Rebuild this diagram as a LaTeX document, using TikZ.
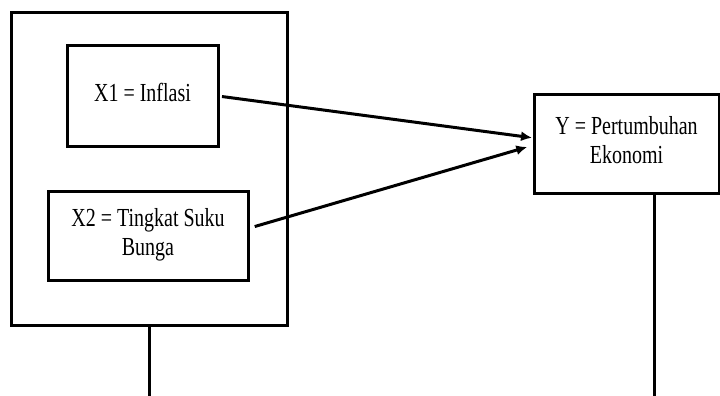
\documentclass[tikz,border=0pt]{standalone}
\usepackage{fontspec}
\setmainfont{Liberation Serif}
\usetikzlibrary{positioning, arrows.meta}
\newcommand{\boxtext}[1]{\scalebox{1}[1.3]{\begin{tabular}{@{}c@{}}#1\end{tabular}}}

\begin{document}
\begin{tikzpicture}[
    x=1pt, y=-1pt,
    node distance=45pt,
    varbox/.style={rectangle, draw, line width=3pt, outer sep=0pt, inner sep=0pt, font=\fontsize{20}{22}\selectfont},
    groupbox/.style={rectangle, draw, line width=3pt, outer sep=0pt, minimum width=276pt, minimum height=312pt},
    arrow/.style={-{Latex[length=11pt,width=10pt]}, line width=3pt},
    link/.style={line width=3pt}
]
    \useasboundingbox (0,0) rectangle (720,396);

    % Group box
    \node[groupbox] (group) at (149,169) {};

    % Independent variables
    \node[varbox, minimum width=151pt, minimum height=100pt] (x1) at (142.5,96) {\boxtext{X1 = Inflasi}};
    \node[varbox, minimum width=200pt, minimum height=89pt, below=45pt of x1.south, xshift=5.5pt] (x2) {\boxtext{X2 = Tingkat Suku\\Bunga}};

    % Dependent variable
    \node[varbox, minimum width=185pt, minimum height=99pt] (y) at (626.5,143.5) {\boxtext{Y = Pertumbuhan\\Ekonomi}};

    % Arrows
    \draw[arrow, shorten <=4pt, shorten >=2pt] (x1.east) -- ([yshift=5.5pt]y.west);
    \draw[arrow, shorten <=7pt, shorten >=7pt] ([yshift=7pt]x2.east) -- ([yshift=-1.5pt]y.west);

    % Line back to Y
    \coordinate (floor) at (0,397);
    \coordinate (yfoot) at ([xshift=28pt]y.south);
    \draw[link] (group.south) -- (group.south |- floor) -- (yfoot |- floor) -- (yfoot);
\end{tikzpicture}
\end{document}
